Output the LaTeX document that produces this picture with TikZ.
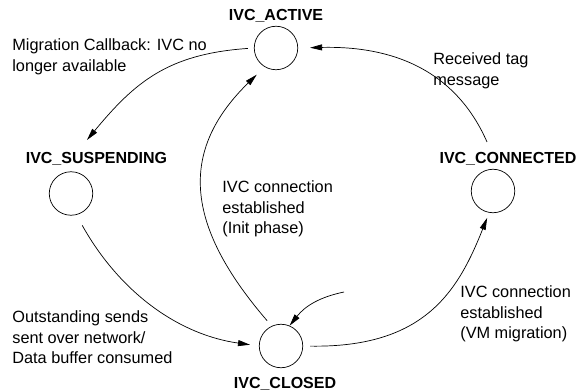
\documentclass[tikz,border=0pt]{standalone}
\usepackage{fontspec}
\setmainfont{Liberation Sans}
\usetikzlibrary{arrows.meta}
\usetikzlibrary{positioning}

\tikzset{every picture/.style={line width=0.7pt}}

\begin{document}
\begin{tikzpicture}[x=1pt,y=-1pt,
    state/.style={draw,circle,minimum size=43.5pt,inner sep=0pt},
    statename/.style={font=\fontsize{16}{20.5}\selectfont\bfseries,inner sep=0pt,anchor=base},
    note/.style={font=\fontsize{16.3}{20.5}\selectfont,align=left,inner sep=0pt,anchor=north west},
    trans/.style={-{Triangle[length=12pt,width=6pt]}},
  ]
  \useasboundingbox (0,0) rectangle (578,390);

  % states
  \foreach \s/\x/\y in {active/276/48,susp/71/193.5,conn/493/191,closed/281/346} {
    \node[state] (\s) at (\x,\y) {};
  }

  % state names
  \node[statename] (activelbl) at (276,21) {IVC\_ACTIVE};
  \node[statename] (susplbl) at (96.5,164) {IVC\_SUSPENDING};
  \node[statename] (connlbl) at (508,164) {IVC\_CONNECTED};
  \node[statename] (closedlbl) at (285,388) {IVC\_CLOSED};

  % transition texts
  \node[note] (callback) at (12,38.4) {Migration Callback: IVC no\\longer available};
  \node[note] (tagmsg) at (433,52.4) {Received tag\\message};
  \node[note] (initphase) at (222,180.4) {IVC connection\\established\\(Init phase)};
  \node[note] (vmmig) at (460,285.4) {IVC connection\\established\\(VM migration)};
  \node[note] (sent) at (12,310.4) {Outstanding sends\\sent over network/\\Data buffer consumed};

  \coordinate (start) at (344,292);

  % transitions
  \draw[trans,shorten <=6pt] (active.180) .. controls +(-86,6) and +(48,-58) .. ([xshift=-9.5pt,yshift=12.5pt]susplbl.north);
  \draw[trans,shorten >=12pt] ([xshift=-21pt,yshift=10.5pt]connlbl.north) .. controls +(-35,-80) and +(82,-2) .. (active.0);
  \draw[trans,shorten <=7pt,shorten >=11pt] (closed.115) .. controls +(-87,-101) and +(-86,84) .. (active.239);
  \draw[trans,shorten <=12pt,shorten >=9pt] (susp.284) .. controls +(45,80) and +(-78,-11) .. (closed.180);
  \draw[trans,shorten <=7pt,shorten >=5.5pt] (closed.0) .. controls +(122,2) and +(-31,78) .. (conn.260);
  \draw[trans] (start) to[bend right=20] (closed.67);
\end{tikzpicture}
\end{document}
